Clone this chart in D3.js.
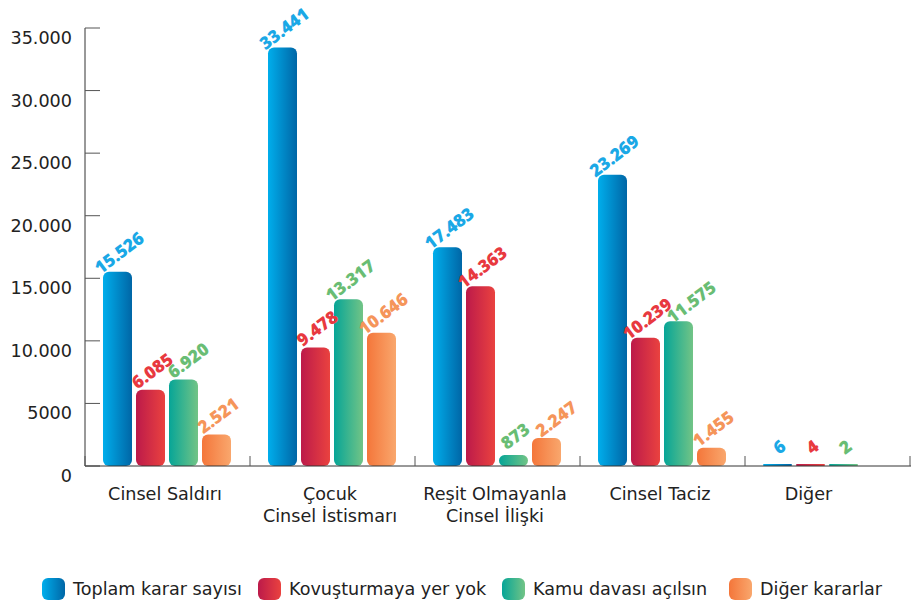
<!DOCTYPE html>
<html><head><meta charset="utf-8">
<script src="https://cdn.jsdelivr.net/npm/d3@7"></script>
<style>
html,body{margin:0;padding:0;background:#fff;}
svg{display:block;font-family:"DejaVu Sans",sans-serif;}
</style></head>
<body><svg id="c" width="914" height="604"></svg>
<script>
const categories = [["Cinsel Saldırı"], ["Çocuk", "Cinsel İstismarı"], ["Reşit Olmayanla", "Cinsel İlişki"], ["Cinsel Taciz"], ["Diğer"]];
const seriesNames = ["Toplam karar sayısı", "Kovuşturmaya yer yok", "Kamu davası açılsın", "Diğer kararlar"];
const toplam = [15526, 33441, 17483, 23269, 6];
const kovusturma = [6085, 9478, 14363, 10239, 4];
const kamu = [6920, 13317, 873, 11575, 2];
const diger = [2521, 10646, 2247, 1455, null];
const yTicks = [0, 5000, 10000, 15000, 20000, 25000, 30000, 35000];
const yTickLabels = ["0", "5000", "10.000", "15.000", "20.000", "25.000", "30.000", "35.000"];
const gradStops = [["#00aeec", "#0066a6"], ["#bc1a4a", "#ea423f"], ["#06a597", "#72c486"], ["#f4763a", "#f9a76d"]];
const labelColors = ["#1aa8e6", "#e8393f", "#69bd74", "#f5955a"];

(function () {
const series = [toplam, kovusturma, kamu, diger];
const svg = d3.select("#c");
const defs = svg.append("defs");
gradStops.forEach((g, i) => {
  const lg = defs.append("linearGradient").attr("id", "g" + i).attr("x1", "0").attr("x2", "1").attr("y1", "0").attr("y2", "0");
  lg.append("stop").attr("offset", "0").attr("stop-color", g[0]);
  lg.append("stop").attr("offset", "1").attr("stop-color", g[1]);
});

const mLeft = 85, mRight = 910, mTop = 28, mBottom = 466;
const fs = 17.6;
const x0 = d3.scaleBand().domain(d3.range(categories.length)).range([mLeft, mRight]).padding(0);
const x1 = d3.scaleBand().domain(d3.range(series.length)).range([18, 146]).paddingInner(4 / 33).paddingOuter(0);
const y = d3.scaleLinear().domain([0, 35000]).range([mBottom, mTop]);
const fmt = v => v >= 1000 ? d3.format(",")(v).replace(/,/g, ".") : String(v);

// y axis
const ya = svg.append("g");
ya.append("line").attr("x1", mLeft).attr("x2", mLeft).attr("y1", y(35000)).attr("y2", mBottom).attr("stroke", "#333").attr("stroke-width", 1);
yTicks.forEach((t, i) => {
  ya.append("line").attr("x1", mLeft).attr("x2", mLeft + 15).attr("y1", y(t)).attr("y2", y(t)).attr("stroke", "#555").attr("stroke-width", 1);
  ya.append("text").attr("x", 72).attr("y", y(t) + 16).attr("text-anchor", "end")
    .attr("font-size", fs).attr("fill", "#222").text(yTickLabels[i]);
});

// bars
categories.forEach((cat, ci) => {
  const g = svg.append("g").attr("transform", `translate(${x0(ci)},0)`);
  series.forEach((s, si) => {
    const v = s[ci];
    if (v == null) return;
    const h = Math.max(2, mBottom - y(v));
    g.append("rect").attr("x", x1(si)).attr("y", mBottom - h).attr("width", x1.bandwidth()).attr("height", h)
      .attr("rx", Math.min(6, h / 2)).attr("fill", `url(#g${si})`);
  });
});

// x axis
const xa = svg.append("g");
xa.append("line").attr("x1", mLeft).attr("x2", mRight + 1).attr("y1", mBottom).attr("y2", mBottom).attr("stroke", "#333");
d3.range(categories.length + 1).forEach(i => {
  const xx = i < categories.length ? x0(i) : mRight;
  xa.append("line").attr("x1", xx).attr("x2", xx).attr("y1", mBottom - 10).attr("y2", mBottom).attr("stroke", "#555");
});

// value labels (rotated, nudged right if they collide with a neighbour)
const ang = 37, rad = ang * Math.PI / 180, cs = Math.cos(rad), sn = Math.sin(rad);
const capH = 13;
categories.forEach((cat, ci) => {
  const placed = [];
  series.forEach((s, si) => {
    const v = s[ci];
    if (v == null) return;
    const cx = x0(ci) + x1(si) + x1.bandwidth() / 2;
    let ax = cx + 5.5, ay = y(v) - 14;
    const t = svg.append("text")
      .attr("text-anchor", "middle").attr("font-family", "'Open Sans', sans-serif")
      .attr("font-size", 17.5).attr("font-weight", 800)
      .attr("fill", labelColors[si]).text(fmt(v));
    const w = t.node().getComputedTextLength();
    const collides = (px) => placed.some(p => {
      const dx = px - p.x, dy = ay - p.y;
      const du = dx * cs - dy * sn, dv = dx * sn + dy * cs;
      return Math.abs(du) < (w + p.w) / 2 + 4 && Math.abs(dv) < capH;
    });
    let shift = 0;
    while (collides(ax + shift) && shift < 25) shift += 1;
    ax += shift;
    t.attr("transform", `translate(${ax},${ay}) rotate(${-ang})`);
    placed.push({ x: ax, y: ay, w });
  });
});

// category labels
categories.forEach((cat, ci) => {
  const present = series.map((s, si) => s[ci] == null ? null : si).filter(d => d != null);
  const a = x0(ci) + x1(present[0]);
  const b = x0(ci) + x1(present[present.length - 1]) + x1.bandwidth();
  const cx = (a + b) / 2 - 2;
  const t = svg.append("text").attr("text-anchor", "middle").attr("font-size", fs).attr("fill", "#222");
  cat.forEach((line, li) => {
    t.append("tspan").attr("x", cx).attr("y", 500 + li * 22).text(line);
  });
});

// legend
const legendX = [42, 258, 502, 729];
seriesNames.forEach((n, i) => {
  svg.append("rect").attr("x", legendX[i]).attr("y", 578).attr("width", 23).attr("height", 22).attr("rx", 6)
    .attr("fill", `url(#g${i})`);
  svg.append("text").attr("x", legendX[i] + 31).attr("y", 595).attr("font-size", fs).attr("fill", "#222").text(n);
});
})();
</script></body></html>
